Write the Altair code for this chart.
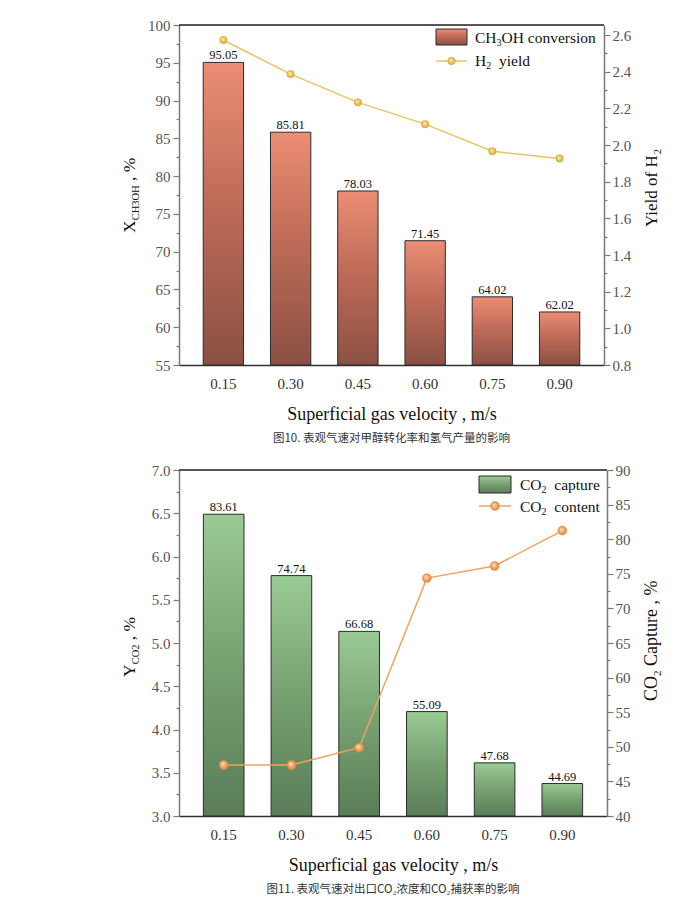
import altair as alt
import pandas as pd

# ---------------- data ----------------
velocity = ["0.15", "0.30", "0.45", "0.60", "0.75", "0.90"]
ch3oh_conversion = [95.05, 85.81, 78.03, 71.45, 64.02, 62.02]
h2_yield = [2.573, 2.387, 2.233, 2.114, 1.966, 1.927]
co2_capture = [83.61, 74.74, 66.68, 55.09, 47.68, 44.69]
co2_content = [3.59, 3.59, 3.79, 5.75, 5.89, 6.30]

ticks_conv = [55, 57.5, 60, 62.5, 65, 67.5, 70, 72.5, 75, 77.5, 80, 82.5, 85,
              87.5, 90, 92.5, 95, 97.5, 100]
ticks_yield = [0.8, 0.9, 1.0, 1.1, 1.2, 1.3, 1.4, 1.5, 1.6, 1.7, 1.8, 1.9, 2.0,
               2.1, 2.2, 2.3, 2.4, 2.5, 2.6]
ticks_content = [3.0, 3.25, 3.5, 3.75, 4.0, 4.25, 4.5, 4.75, 5.0, 5.25, 5.5,
                 5.75, 6.0, 6.25, 6.5, 6.75, 7.0]
ticks_capture = [40, 42.5, 45, 47.5, 50, 52.5, 55, 57.5, 60, 62.5, 65, 67.5, 70,
                 72.5, 75, 77.5, 80, 82.5, 85, 87.5, 90]

caption_top = "图10. 表观气速对甲醇转化率和氢气产量的影响"
caption_bottom = "图11. 表观气速对出口CO₂浓度和CO₂捕获率的影响"
x_title = "Superficial gas velocity , m/s"

df_top = pd.DataFrame({"v": velocity, "conv": ch3oh_conversion, "yield": h2_yield})
df_bot = pd.DataFrame({"v": velocity, "capture": co2_capture, "content": co2_content})

SERIF = "Liberation Serif"
CJK = "Noto Sans CJK SC"

# Times / Liberation Serif advance widths (per 1000 em)
WID = {' ': 250, ',': 250, '.': 250, '%': 833, '/': 278,
       'C': 667, 'H': 722, 'O': 722, 'X': 722, 'Y': 722, 'S': 556,
       'a': 444, 'c': 444, 'd': 500, 'e': 444, 'f': 333, 'g': 500, 'i': 278,
       'l': 278, 'm': 778, 'n': 500, 'o': 500, 'p': 500, 'r': 333, 's': 389,
       't': 278, 'u': 500, 'v': 500, 'y': 500}


def tw(s, size):
    return sum(WID.get(c, 500) for c in s) / 1000.0 * size


one = alt.Data(values=[{"k": 1}])


def rich(segments, x, y, angle=0, color="#111111"):
    out = []
    pos = 0.0
    for txt, size, shift in segments:
        stripped = txt.lstrip(" ")
        pos += tw(txt[:len(txt) - len(stripped)], size)
        if angle == 0:
            xx, yy = x + pos, y + shift
        else:
            xx, yy = x + shift, y - pos
        out.append(
            alt.Chart(one).mark_text(font=SERIF, fontSize=size, align="left",
                                     baseline="alphabetic", angle=angle, color=color)
            .encode(text=alt.value(stripped), x=alt.value(xx), y=alt.value(yy))
        )
        pos += tw(stripped, size)
    return out


def lin_grad(bottom, mid, top):
    return alt.Gradient(gradient="linear",
                        stops=[alt.GradientStop(color=bottom, offset=0),
                               alt.GradientStop(color=mid, offset=0.55),
                               alt.GradientStop(color=top, offset=1)],
                        x1=0, x2=0, y1=1, y2=0)


def ball(light, base, dark):
    return alt.Gradient(gradient="radial",
                        stops=[alt.GradientStop(color=light, offset=0),
                               alt.GradientStop(color=base, offset=0.5),
                               alt.GradientStop(color=dark, offset=1)],
                        x1=0.38, y1=0.35, r1=0, x2=0.5, y2=0.5, r2=0.55)


red_grad = lin_grad("#8b5043", "#c06c58", "#ec8d74")
green_grad = lin_grad("#5a7d58", "#7aa474", "#9acb94")
gold_ball = ball("#fff7dc", "#ecc866", "#d7a83a")
orange_ball = ball("#ffe9d2", "#f5a966", "#e0873f")

GOLD = "#e8c464"
ORANGE = "#f2a25e"


def yaxis(orient, vals, major_test, fmt):
    return alt.Axis(orient=orient, title=None, values=vals, format=fmt,
                    tickCount=200,
                    labelExpr="(" + major_test + ") ? datum.label : ''",
                    labelOverlap=False, labelBound=False, labelFlush=False,
                    tickSize={"condition": {"test": "!(" + major_test + ")", "value": 3},
                              "value": 6},
                    grid=False, domainColor="#7a7a7a", domainWidth=1.5,
                    tickColor="#7a7a7a", tickWidth=1.2,
                    labelFont=SERIF, labelFontSize=15, labelColor="#555555",
                    labelPadding=3 if orient == "left" else 2)


xaxis = alt.Axis(title=x_title, labelAngle=0, ticks=False, domainColor="#333333",
                 domainWidth=1.3, labelFont=SERIF, labelFontSize=15,
                 labelColor="#333333", labelPadding=11, titleFont=SERIF,
                 titleFontSize=18, titleFontWeight="normal", titleColor="#111111",
                 titlePadding=14)


def xenc():
    return alt.X("v:N", sort=None, axis=xaxis,
                 scale=alt.Scale(paddingInner=0.40, paddingOuter=0.36))


def panel(df, W, H, bar_field, bar_dom, bar_axis, bar_grad, line_field, line_dom,
          line_axis, line_color, ball_grad, ball_stroke, ball_size, decor, caption):
    bars = alt.Chart(df).mark_bar(fill=bar_grad, stroke="#2b2b2b", strokeWidth=1).encode(
        x=xenc(),
        y=alt.Y(bar_field + ":Q", axis=bar_axis,
                scale=alt.Scale(domain=bar_dom, nice=False, zero=False)),
        y2=alt.datum(bar_dom[0]),
    )
    labels = alt.Chart(df).mark_text(font=SERIF, fontSize=12.5, color="#111111",
                                     baseline="alphabetic", dy=-3).encode(
        x=xenc(),
        y=alt.Y(bar_field + ":Q"),
        text=alt.Text(bar_field + ":Q", format=".2f"),
    )
    line = alt.Chart(df).mark_line(color=line_color, strokeWidth=1.5).encode(
        x=xenc(),
        y=alt.Y(line_field + ":Q", axis=line_axis,
                scale=alt.Scale(domain=line_dom, nice=False, zero=False)),
    )
    pts = alt.Chart(df).mark_point(shape="circle", filled=True, fill=ball_grad,
                                   stroke=ball_stroke, strokeWidth=0.6, opacity=1,
                                   size=ball_size).encode(
        x=xenc(),
        y=alt.Y(line_field + ":Q"),
    )
    border = alt.Chart(one).mark_rule(color="#222222", strokeWidth=1.3).encode(
        x=alt.value(0), x2=alt.value(W), y=alt.value(0))
    g1 = alt.layer(bars, labels)
    g2 = alt.layer(line, pts)
    ch = alt.layer(g1, g2, border, *decor).resolve_scale(y="independent").properties(
        width=W, height=H,
        title=alt.TitleParams(text=caption, orient="bottom", anchor="middle",
                              frame="group", font=CJK, fontSize=11.5,
                              fontWeight="normal", color="#333333", offset=10))
    return ch


# ---------- top panel ----------
W1, H1 = 425, 340
decor1 = []
decor1.append(alt.Chart(one).mark_rect(fill=red_grad, stroke="#2b2b2b", strokeWidth=1).encode(
    x=alt.value(257), x2=alt.value(288), y=alt.value(4), y2=alt.value(20)))
decor1 += rich([("CH", 15.5, 0), ("3", 10, 3), ("OH conversion", 15.5, 0)], 296, 18)
decor1.append(alt.Chart(one).mark_rule(color=GOLD, strokeWidth=1.5).encode(
    x=alt.value(257), x2=alt.value(288), y=alt.value(36)))
decor1.append(alt.Chart(one).mark_point(shape="circle", filled=True, fill=gold_ball,
                                        stroke="#d4a53a", strokeWidth=0.6, opacity=1,
                                        size=55).encode(
    x=alt.value(272.5), y=alt.value(36)))
decor1 += rich([("H", 15.5, 0), ("2", 10, 3), ("  yield", 15.5, 0)], 296, 41)
decor1 += rich([("X", 17.5, 0), ("CH3OH", 10.5, 4), (" , %", 17.5, 0)], -44, 208, angle=270)
decor1 += rich([("Yield of H", 17, 0), ("2", 10.5, 4)], 478, 202, angle=270)

top = panel(df_top, W1, H1, "conv", [55, 100],
            yaxis("left", ticks_conv, "datum.value % 5 == 0", ".0f"), red_grad,
            "yield", [0.8, 2.655],
            yaxis("right", ticks_yield, "round(datum.value * 10) % 2 == 0", ".1f"),
            GOLD, gold_ball, "#d4a53a", 55, decor1, caption_top)

# ---------- bottom panel ----------
W2, H2 = 428, 346
decor2 = []
decor2.append(alt.Chart(one).mark_rect(fill=green_grad, stroke="#2b2b2b", strokeWidth=1).encode(
    x=alt.value(300), x2=alt.value(332), y=alt.value(6), y2=alt.value(23)))
decor2 += rich([("CO", 15.5, 0), ("2", 10, 3), ("  capture", 15.5, 0)], 341, 20)
decor2.append(alt.Chart(one).mark_rule(color=ORANGE, strokeWidth=1.5).encode(
    x=alt.value(300), x2=alt.value(332), y=alt.value(36)))
decor2.append(alt.Chart(one).mark_point(shape="circle", filled=True, fill=orange_ball,
                                        stroke="#dd8a45", strokeWidth=0.6, opacity=1,
                                        size=80).encode(
    x=alt.value(316), y=alt.value(36)))
decor2 += rich([("CO", 15.5, 0), ("2", 10, 3), ("  content", 15.5, 0)], 341, 42)
decor2 += rich([("Y", 17.5, 0), ("CO2", 10.5, 4), (" , %", 17.5, 0)], -44, 207, angle=270)
decor2 += rich([("CO", 18, 0), ("2", 11, 4), (" Capture  , %", 18, 0)], 478, 231, angle=270)

bottom = panel(df_bot, W2, H2, "capture", [40, 90],
               yaxis("right", ticks_capture, "datum.value % 5 == 0", ".0f"), green_grad,
               "content", [3, 7],
               yaxis("left", ticks_content, "round(datum.value * 4) % 2 == 0", ".1f"),
               ORANGE, orange_ball, "#dd8a45", 80, decor2, caption_bottom)

chart = alt.concat(top, bottom, columns=1, spacing=17).properties(
    padding={"left": 112, "top": 9, "right": 5, "bottom": 5}
).configure_view(stroke=None).configure(background="white")

chart.save("out.html", embed_options={"renderer": "svg", "actions": False})
